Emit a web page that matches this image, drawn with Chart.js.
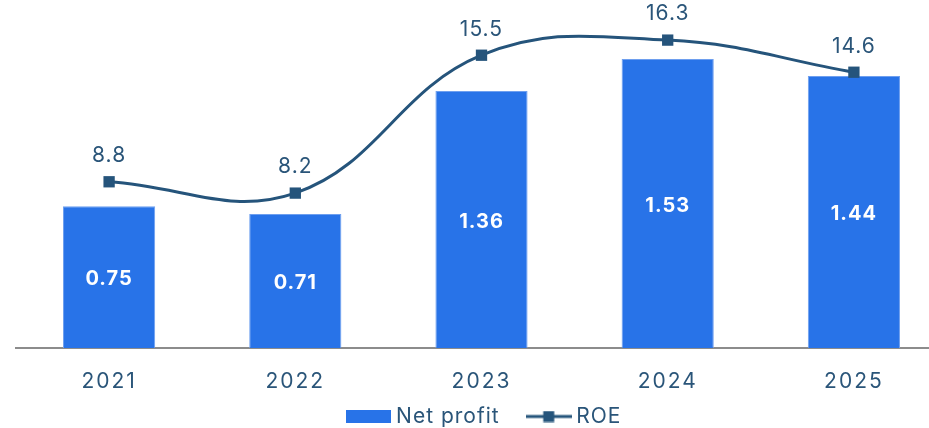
<!DOCTYPE html>
<html>
<head>
<meta charset="utf-8">
<script src="https://cdn.jsdelivr.net/npm/chart.js@4/dist/chart.umd.min.js"></script>
<style>
html,body{margin:0;padding:0;overflow:hidden;background:#fff;width:929px;height:428px;}
#wrap{position:absolute;left:0;top:0;width:957px;height:437px;}
</style>
</head>
<body>
<div id="wrap"><canvas id="c" width="957" height="437"></canvas></div>
<script>
const categories = ['2021', '2022', '2023', '2024', '2025'];
const netProfit = [0.75, 0.71, 1.36, 1.53, 1.44];
const roe = [8.8, 8.2, 15.5, 16.3, 14.6];
const seriesNames = ['Net profit', 'ROE'];

const BAR = '#2873E8';
const BAR_EDGE = '#6E9FEF';
const LINE = '#25547B';
const TEXT = '#2A5579';
const FONT = 'Inter';

function makeImg(w, h, draw) {
  const c = document.createElement('canvas');
  c.width = w; c.height = h;
  draw(c.getContext('2d'), w, h);
  return c;
}
const netImg = makeImg(45, 13, (g, w, h) => { g.fillStyle = BAR; g.fillRect(0, 0, w, h); });
const roeImg = makeImg(46, 12, (g, w, h) => {
  g.strokeStyle = LINE; g.lineWidth = 3;
  g.beginPath(); g.moveTo(0, h / 2); g.lineTo(w, h / 2); g.stroke();
  g.fillStyle = LINE; g.fillRect(w / 2 - 5.5, h / 2 - 5.5, 11, 11);
});

const spacing = {
  id: 'spacing',
  beforeUpdate(chart) { chart.ctx.letterSpacing = '1px'; },
  beforeLayout(chart) { chart.ctx.letterSpacing = '1px'; },
  beforeDraw(chart) {
    chart.ctx.letterSpacing = '1px';
    const sx = chart.scales.x;
    // let the category labels extend below the (shortened) axis box
    sx._computeLabelArea = () => undefined;
    if (!sx._wrapped) {
      const orig = sx.drawLabels.bind(sx);
      sx.drawLabels = function (area) {
        const ctx = chart.ctx;
        const prev = ctx.letterSpacing;
        ctx.letterSpacing = '2px';
        orig(area);
        ctx.letterSpacing = prev;
      };
      sx._wrapped = true;
    }
  }
};

const labelsPlugin = {
  id: 'valueLabels',
  afterDatasetsDraw(chart) {
    const ctx = chart.ctx;
    ctx.save();
    ctx.letterSpacing = '1px';
    ctx.textAlign = 'center';
    ctx.textBaseline = 'middle';
    const bars = chart.getDatasetMeta(0).data;
    ctx.font = 'bold 20px ' + FONT;
    ctx.fillStyle = '#ffffff';
    bars.forEach((el, i) => {
      ctx.fillText(netProfit[i].toFixed(2), el.x, (el.y + el.base) / 2 + 2);
    });
    const pts = chart.getDatasetMeta(1).data;
    ctx.font = '21px ' + FONT;
    ctx.fillStyle = TEXT;
    pts.forEach((el, i) => {
      ctx.fillText(roe[i].toFixed(1), el.x, el.y - 26);
    });
    ctx.restore();
  }
};

new Chart(document.getElementById('c'), {
  data: {
    labels: categories,
    datasets: [
      {
        type: 'bar',
        label: seriesNames[0],
        data: netProfit,
        yAxisID: 'y',
        backgroundColor: BAR,
        borderColor: BAR_EDGE,
        borderWidth: 1,
        barPercentage: 0.495,
        categoryPercentage: 1.0,
        order: 1
      },
      {
        type: 'line',
        label: seriesNames[1],
        data: roe,
        yAxisID: 'y1',
        borderColor: LINE,
        backgroundColor: LINE,
        borderWidth: 3,
        tension: 0.4,
        pointStyle: 'rect',
        pointRadius: 8,
        pointHoverRadius: 8,
        pointBackgroundColor: LINE,
        pointBorderWidth: 0,
        order: 0
      }
    ]
  },
  options: {
    responsive: false,
    animation: false,
    layout: { padding: { left: 16, right: 0, top: 6, bottom: 0 } },
    scales: {
      x: {
        grid: { display: false, drawTicks: false },
        border: { display: true, color: '#8C8C8C', width: 2 },
        ticks: { color: TEXT, font: { family: FONT, size: 21 }, padding: 21 },
        afterFit(s) { s.height = 26; }
      },
      y: {
        display: false,
        min: 0, max: 1.8
      },
      y1: {
        display: true,
        position: 'right',
        min: 0, max: 18,
        grid: { display: false, drawTicks: false },
        border: { display: false },
        ticks: { display: false },
        afterFit(s) { s.width = 10; }
      }
    },
    plugins: {
      tooltip: { enabled: false },
      legend: {
        position: 'bottom',
        labels: {
          color: TEXT,
          font: { family: FONT, size: 21 },
          usePointStyle: true,
          pointStyleWidth: 34,
          boxHeight: 13,
          padding: 32,
          generateLabels() {
            return [
              { text: seriesNames[0], pointStyle: netImg, fillStyle: BAR, strokeStyle: BAR, lineWidth: 0, hidden: false, datasetIndex: 0, fontColor: TEXT },
              { text: seriesNames[1], pointStyle: roeImg, fillStyle: LINE, strokeStyle: LINE, lineWidth: 0, hidden: false, datasetIndex: 1, fontColor: TEXT }
            ];
          }
        }
      }
    }
  },
  plugins: [spacing, labelsPlugin]
});
</script>
</body>
</html>
